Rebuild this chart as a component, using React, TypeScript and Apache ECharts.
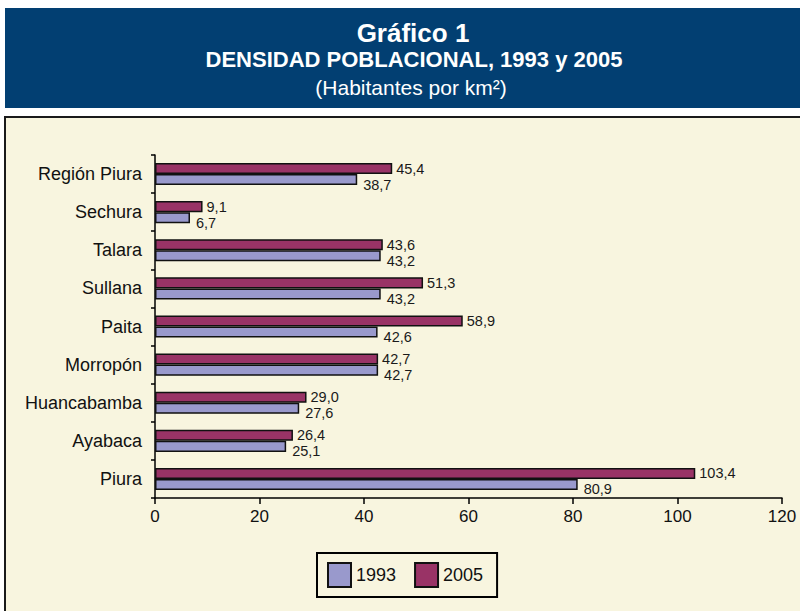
import React, { useEffect, useRef } from "react";
import * as echarts from "echarts";

const categories = [
  "Piura",
  "Ayabaca",
  "Huancabamba",
  "Morropón",
  "Paita",
  "Sullana",
  "Talara",
  "Sechura",
  "Región Piura",
];
const values1993 = [80.9, 25.1, 27.6, 42.7, 42.6, 43.2, 43.2, 6.7, 38.7];
const values2005 = [103.4, 26.4, 29.0, 42.7, 58.9, 51.3, 43.6, 9.1, 45.4];
const xTicks = { min: 0, max: 120, interval: 20 };
const titleLines = ["Gráfico 1", "DENSIDAD POBLACIONAL, 1993 y 2005", "(Habitantes por km²)"];

const fmt = (p: any) => Number(p.value).toFixed(1).replace(".", ",");
const SANS = "'Liberation Sans', Arial, sans-serif";

export default function App() {
  const ref = useRef<HTMLDivElement>(null);
  useEffect(() => {
    if (!ref.current) return;
    const chart = echarts.init(ref.current, null, { renderer: "svg" });
    const labelStyle = {
      show: true,
      position: "right" as const,
      distance: 4,
      fontFamily: SANS,
      fontSize: 14.5,
      color: "#1a1a1a",
      formatter: fmt,
    };
    chart.setOption({
      animation: false,
      backgroundColor: "#ffffff",
      graphic: [
        {
          type: "rect",
          z: -10,
          silent: true,
          shape: { x: 5, y: 8, width: 800, height: 100 },
          style: { fill: "#023F72" },
        },
        {
          type: "rect",
          z: -10,
          silent: true,
          shape: { x: 5, y: 117, width: 800, height: 500 },
          style: { fill: "#F8F5DF", stroke: "#1a1a1a", lineWidth: 2 },
        },
        {
          type: "text",
          x: 413,
          y: 33,
          style: {
            text: titleLines[0],
            fill: "#ffffff",
            font: `bold 26px ${SANS}`,
            align: "center",
            verticalAlign: "middle",
          },
        },
        {
          type: "text",
          x: 414,
          y: 59,
          style: {
            text: titleLines[1],
            fill: "#ffffff",
            font: `bold 22px ${SANS}`,
            align: "center",
            verticalAlign: "middle",
          },
        },
        {
          type: "text",
          x: 411,
          y: 87,
          style: {
            text: titleLines[2],
            fill: "#ffffff",
            font: `21px ${SANS}`,
            align: "center",
            verticalAlign: "middle",
          },
        },
      ],
      legend: {
        left: 317,
        top: 553,
        orient: "horizontal",
        data: ["1993", "2005"],
        itemWidth: 23,
        itemHeight: 24,
        itemGap: 18,
        padding: [9, 14, 9, 10],
        borderColor: "#000",
        borderWidth: 2,
        backgroundColor: "#F8F5DF",
        textStyle: { fontFamily: SANS, fontSize: 18, color: "#111" },
        icon: "rect",
      },
      grid: { left: 155, right: 18, top: 155, bottom: 113, containLabel: false },
      xAxis: {
        type: "value",
        min: xTicks.min,
        max: xTicks.max,
        interval: xTicks.interval,
        splitLine: { show: false },
        axisLine: { show: true, lineStyle: { color: "#000", width: 1.5 } },
        axisTick: { show: true, length: 6, lineStyle: { color: "#000", width: 1.5 } },
        axisLabel: { fontFamily: SANS, fontSize: 17, color: "#111", margin: 10 },
      },
      yAxis: {
        type: "category",
        data: categories,
        axisLine: { show: true, lineStyle: { color: "#000", width: 1.5 } },
        axisTick: { show: true, length: 4, alignWithLabel: false, lineStyle: { color: "#000", width: 1.5 } },
        axisLabel: { fontFamily: SANS, fontSize: 18, color: "#111", margin: 13 },
      },
      series: [
        {
          name: "2005",
          type: "bar",
          data: values2005,
          barGap: "0%",
          barCategoryGap: "42%",
          itemStyle: { color: "#993366", borderColor: "#111", borderWidth: 1.5 },
          label: { ...labelStyle, offset: [0, 0] },
        },
        {
          name: "1993",
          type: "bar",
          data: values1993,
          barGap: "0%",
          barCategoryGap: "42%",
          itemStyle: { color: "#9999CC", borderColor: "#111", borderWidth: 1.5 },
          label: { ...labelStyle, offset: [2, 5] },
        },
      ],
    });
    return () => chart.dispose();
  }, []);
  return (
    <div
      ref={ref}
      style={{ position: "fixed", left: 0, top: 0, width: 800, height: 611 }}
    />
  );
}
